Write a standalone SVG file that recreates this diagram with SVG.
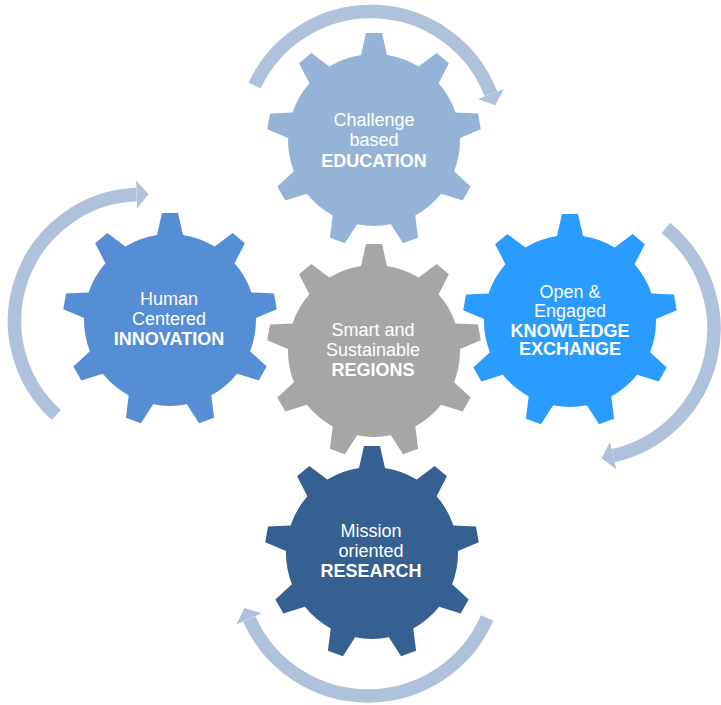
<svg xmlns="http://www.w3.org/2000/svg" xmlns:xlink="http://www.w3.org/1999/xlink" width="721" height="705" viewBox="0 0 721 705">
<style>
.lbl{font-family:"Liberation Sans",Arial,sans-serif;font-size:18px;fill:#ffffff;text-anchor:middle}
.b{font-weight:bold}
.arr{fill:none;stroke:#B0C1DC;stroke-width:13.5;stroke-linecap:butt}
</style>
<defs>
<path id="gear" d="M -13,-85.01 L -8,-107 L 8,-107 L 13,-85.01 A 86 86 0 0 1 44.68,-73.48 L 62.65,-87.10 L 74.91,-76.82 L 64.60,-56.76 A 86 86 0 0 1 81.46,-27.56 L 103.98,-26.46 L 106.76,-10.70 L 85.98,-1.96 A 86 86 0 0 1 80.12,31.25 L 96.66,46.57 L 88.66,60.43 L 67.12,53.77 A 86 86 0 0 1 41.29,75.43 L 44.11,97.81 L 29.07,103.29 L 16.85,84.33 A 86 86 0 0 1 -16.85,84.33 L -29.07,103.29 L -44.11,97.81 L -41.29,75.43 A 86 86 0 0 1 -67.12,53.77 L -88.66,60.43 L -96.66,46.57 L -80.12,31.25 A 86 86 0 0 1 -85.98,-1.96 L -106.76,-10.70 L -103.98,-26.46 L -81.46,-27.56 A 86 86 0 0 1 -64.60,-56.76 L -74.91,-76.82 L -62.65,-87.10 L -44.68,-73.48 A 86 86 0 0 1 -13,-85.01 Z"/>
<marker id="head" markerUnits="userSpaceOnUse" markerWidth="14" markerHeight="30" viewBox="0 -15 14 30" refX="0" refY="0" orient="auto">
<path d="M0,-14 L12,0 L0,14 Z" fill="#B0C1DC"/>
</marker>
</defs>
<g id="connectors">
<path class="arr" marker-end="url(#head)" d="M 254.54,85.69 A 128.5 128.5 0 0 1 490.97,93.95"/>
<path class="arr" marker-end="url(#head)" d="M 665.81,227.98 A 130 130 0 0 1 613.25,455.67"/>
<path class="arr" marker-end="url(#head)" d="M 487.13,618.04 A 130 130 0 0 1 249.24,618.88"/>
<path class="arr" marker-end="url(#head)" d="M 56.36,415.0 A 126.5 126.5 0 0 1 136.59,194.58"/>
</g>
<g id="education">
<use xlink:href="#gear" href="#gear" transform="translate(374,140)" fill="#95B3D7"/>
<text class="lbl" x="374" y="126">Challenge</text>
<text class="lbl" x="374" y="146">based</text>
<text class="lbl b" x="374" y="166.5">EDUCATION</text>
</g>
<g id="innovation">
<use xlink:href="#gear" href="#gear" transform="translate(170,320)" fill="#558ED5"/>
<text class="lbl" x="169" y="305">Human</text>
<text class="lbl" x="169" y="325">Centered</text>
<text class="lbl b" x="169" y="345">INNOVATION</text>
</g>
<g id="regions">
<use xlink:href="#gear" href="#gear" transform="translate(374,351)" fill="#A6A6A6"/>
<text class="lbl" x="373" y="336">Smart and</text>
<text class="lbl" x="373" y="356">Sustainable</text>
<text class="lbl b" x="373" y="376">REGIONS</text>
</g>
<g id="knowledge">
<use xlink:href="#gear" href="#gear" transform="translate(570,321)" fill="#2A9BFF"/>
<text class="lbl" x="570" y="298">Open &amp;</text>
<text class="lbl" x="570" y="317">Engaged</text>
<text class="lbl b" x="570" y="336.5">KNOWLEDGE</text>
<text class="lbl b" x="570" y="355">EXCHANGE</text>
</g>
<g id="research">
<use xlink:href="#gear" href="#gear" transform="translate(372,553)" fill="#376092"/>
<text class="lbl" x="371" y="537">Mission</text>
<text class="lbl" x="371" y="557">oriented</text>
<text class="lbl b" x="371" y="577">RESEARCH</text>
</g>
</svg>
